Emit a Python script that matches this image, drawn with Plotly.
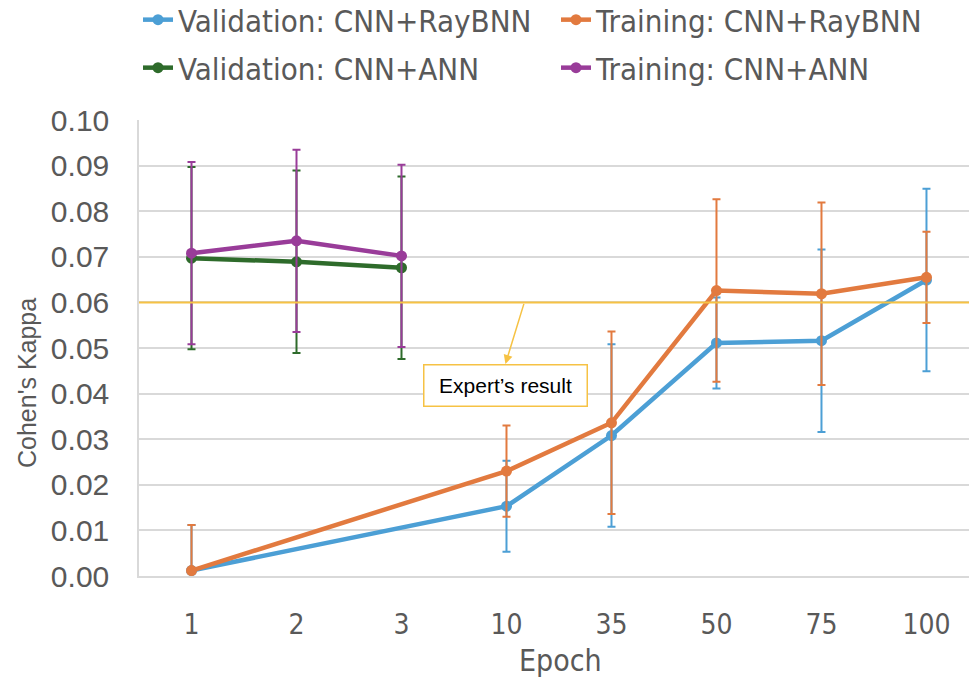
import plotly.graph_objects as go

epochs = ["1", "2", "3", "10", "35", "50", "75", "100"]

val_raybnn = [0.0012, None, None, 0.0153, 0.0308, 0.0511, 0.0516, 0.0649]
val_raybnn_err = [0.01, 0, 0, 0.01, 0.02, 0.01, 0.02, 0.02]
train_raybnn = [0.0012, None, None, 0.0230, 0.0336, 0.0626, 0.0619, 0.0655]
train_raybnn_err = [0.01, 0, 0, 0.01, 0.02, 0.02, 0.02, 0.01]
val_ann = [0.0697, 0.0689, 0.0676, None, None, None, None, None]
val_ann_err = [0.02, 0.02, 0.02, 0, 0, 0, 0, 0]
train_ann = [0.0708, 0.0735, 0.0702, None, None, None, None, None]
train_ann_err = [0.02, 0.02, 0.02, 0, 0, 0, 0, 0]

expert_value = 0.06
y_ticks = [0.00, 0.01, 0.02, 0.03, 0.04, 0.05, 0.06, 0.07, 0.08, 0.09, 0.10]

BLUE = "#4C9FD5"
ORANGE = "#E27A3F"
GREEN = "#2E6B2B"
PURPLE = "#993C99"
GOLD = "#F6C244"
GRID = "#D9D9D9"
TEXT = "#595959"

NARROW = "DejaVu Sans Condensed, Liberation Sans, sans-serif"
LEG_FONT = dict(family=NARROW, size=31, color=TEXT)

# plot area in pixels
L, R, T, B = 139, 969, 120, 576
W, H = 969, 679

series = [
    ("Validation: CNN+RayBNN", val_raybnn, val_raybnn_err, BLUE, "legend", 138, 20),
    ("Training: CNN+RayBNN", train_raybnn, train_raybnn_err, ORANGE, "legend2", 556, 20),
    ("Validation: CNN+ANN", val_ann, val_ann_err, GREEN, "legend3", 138, 68),
    ("Training: CNN+ANN", train_ann, train_ann_err, PURPLE, "legend4", 556, 68),
]

fig = go.Figure()
legends = {}
for name, vals, errs, col, leg, lx, ly in series:
    fig.add_trace(go.Scatter(
        x=epochs, y=vals, name=name, mode="lines+markers",
        connectgaps=True,
        line=dict(color=col, width=4.5),
        marker=dict(color=col, size=11),
        error_y=dict(type="data", array=errs, visible=True, color=col,
                     thickness=2, width=4),
        legend=leg,
        cliponaxis=False,
    ))
    legends[leg] = dict(orientation="h", xref="container", yref="container",
                        x=lx / W, y=1 - ly / H, xanchor="left", yanchor="middle",
                        font=LEG_FONT, bgcolor="rgba(0,0,0,0)", borderwidth=0)

fig.add_shape(type="line", xref="paper", x0=0, x1=1, yref="y",
              y0=expert_value, y1=expert_value,
              line=dict(color=GOLD, width=2), layer="above")

# arrow from line to box
fig.add_annotation(x=2.99, y=0.0465, ax=3.17, ay=expert_value,
                   axref="x", ayref="y", xref="x", yref="y",
                   text="", showarrow=True, arrowhead=2, arrowsize=1.2,
                   arrowwidth=1.5, arrowcolor=GOLD)
fig.add_annotation(x=2.986, y=0.04167, xref="x", yref="y",
                   text="Expert\u2019s result", showarrow=False,
                   font=dict(family="Liberation Sans", size=21, color="#000000"),
                   bordercolor=GOLD, borderwidth=1.5, borderpad=4,
                   width=154, height=32, bgcolor="white")

# axis titles (paper coords relative to plot area)
fig.add_annotation(text="Cohen's Kappa", textangle=-90, xref="paper", yref="paper",
                   x=(27 - L) / (R - L), y=(B - 383) / (B - T),
                   xanchor="center", yanchor="middle", showarrow=False,
                   font=dict(family="Liberation Sans", size=25, color=TEXT))
fig.add_annotation(text="Epoch", xref="paper", yref="paper",
                   x=(560 - L) / (R - L), y=(B - 660) / (B - T),
                   xanchor="center", yanchor="middle", showarrow=False,
                   font=dict(family=NARROW, size=30, color=TEXT))

fig.update_layout(
    width=W, height=H,
    margin=dict(l=L, r=W - R, t=T, b=H - B, autoexpand=False),
    paper_bgcolor="white", plot_bgcolor="white",
    showlegend=True,
    xaxis=dict(type="category", range=[-0.5, 7.405], showgrid=False,
               showline=True, linecolor=GRID, linewidth=1.5, ticks="",
               tickfont=dict(family=NARROW, size=28, color=TEXT),
               ticklabelstandoff=23, zeroline=False),
    yaxis=dict(range=[0, 0.10], tickvals=y_ticks, tickformat=".2f",
               showgrid=True, gridcolor=GRID, gridwidth=1.5,
               showline=True, linecolor=GRID, linewidth=1.5, ticks="",
               tickfont=dict(family="Liberation Sans", size=30, color=TEXT),
               ticklabelstandoff=22, zeroline=False),
    **legends,
)

fig.write_html("out.html",
               config={"displayModeBar": False},
               post_script="document.body.style.margin='0';document.body.style.overflow='hidden';")
